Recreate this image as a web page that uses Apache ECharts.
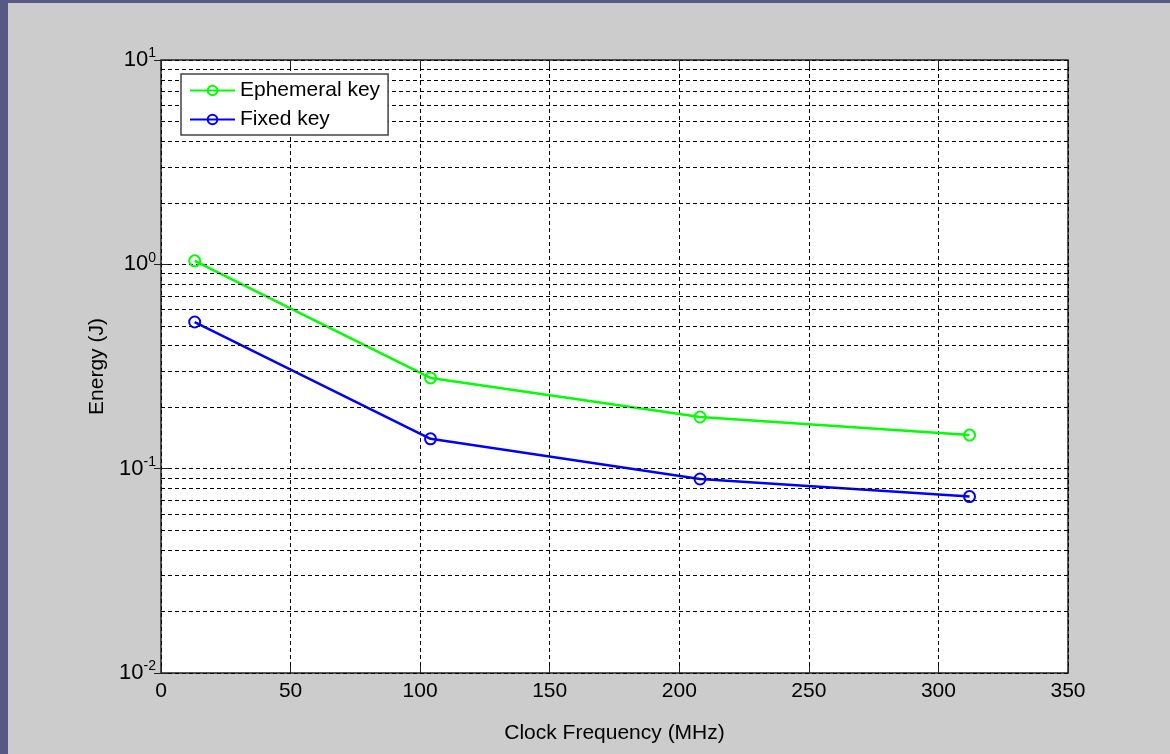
<!DOCTYPE html>
<html>
<head>
<meta charset="utf-8">
<script src="https://cdn.jsdelivr.net/npm/echarts@6/dist/echarts.min.js"></script>
<style>
  html, body { margin: 0; padding: 0; background: #575984; }
  #chart { position: absolute; left: 8px; top: 3px; width: 1162px; height: 751px; background: #cccccc; }
</style>
</head>
<body>
<div id="chart"></div>
<script>
// frecuencias de reloj (MHz)
const clockFreq = [13, 104, 208, 312];
// energía medida (J)
const ephemeralEnergy = [1.04, 0.278, 0.179, 0.146];
const fixedEnergy = [0.522, 0.14, 0.089, 0.073];
// líneas menores de la rejilla logarítmica
const minorGrid = [0.02, 0.03, 0.04, 0.05, 0.06, 0.07, 0.08, 0.09,
                   0.2, 0.3, 0.4, 0.5, 0.6, 0.7, 0.8, 0.9,
                   2, 3, 4, 5, 6, 7, 8, 9];
const xTicks = [0, 50, 100, 150, 200, 250, 300, 350];

const chart = echarts.init(document.getElementById('chart'));

const dashed = { color: '#000', width: 1, type: [4, 3] };
const font = 'Liberation Sans, Arial, sans-serif';

function pairs(ys) {
  return clockFreq.map((x, i) => [x, ys[i]]);
}

function lineSeries(name, color, ys) {
  return {
    name: name,
    type: 'line',
    z: 3,
    data: pairs(ys),
    symbol: 'circle',
    symbolSize: 11,
    lineStyle: { color: color, width: 2.5 },
    itemStyle: { color: 'rgba(255,255,255,0)', borderColor: color, borderWidth: 2 },
    emphasis: { disabled: true },
    animation: false
  };
}

const option = {
  animation: false,
  textStyle: { fontFamily: font },
  grid: {
    left: 153, top: 57, width: 907, height: 613,
    show: true, backgroundColor: '#fff', borderColor: '#222', borderWidth: 1.5
  },
  legend: {
    z: 20,
    left: 173, top: 71,
    orient: 'vertical',
    backgroundColor: '#fff',
    borderColor: '#444', borderWidth: 1.5,
    padding: [6, 8, 5, 8],
    itemGap: 8,
    itemWidth: 45, itemHeight: 12,
    textStyle: { fontSize: 21, color: '#000', fontFamily: font },
    data: ['Ephemeral key', 'Fixed key']
  },
  xAxis: [{
    type: 'value',
    min: 0, max: 350, interval: 50,
    name: 'Clock Frequency (MHz)',
    nameLocation: 'middle',
    nameGap: 50,
    nameTextStyle: { fontSize: 21, color: '#000' },
    axisLine: { show: false },
    axisTick: { show: true, inside: true, length: 7, lineStyle: { color: '#222' } },
    axisLabel: { fontSize: 21, color: '#000', margin: 8,
      formatter: v => xTicks.includes(v) ? String(v) : '' },
    splitLine: { show: true, lineStyle: dashed }
  }, {
    type: 'value', position: 'top',
    min: 0, max: 350, interval: 50,
    axisLine: { show: false },
    axisTick: { show: true, inside: true, length: 7, lineStyle: { color: '#222' } },
    axisLabel: { show: false },
    splitLine: { show: false }
  }],
  yAxis: [{
    type: 'log', logBase: 10,
    min: 0.01, max: 10,
    name: 'Energy (J)',
    nameLocation: 'middle',
    nameGap: 46,
    nameTextStyle: { fontSize: 21, color: '#000' },
    axisLine: { show: false },
    axisTick: { show: true, inside: true, length: 7, lineStyle: { color: '#222' } },
    axisLabel: {
      margin: 5,
      formatter: v => '{b|10}{s|' + Math.round(Math.log10(v)) + '}',
      rich: {
        b: { fontSize: 22, color: '#000', fontFamily: font },
        s: { fontSize: 14, color: '#000', fontFamily: font, padding: [0, 0, 13, 0], verticalAlign: 'bottom' }
      }
    },
    splitLine: { show: true, lineStyle: dashed }
  }, {
    type: 'log', logBase: 10, position: 'right',
    min: 0.01, max: 10,
    axisLine: { show: false },
    axisTick: { show: true, inside: true, length: 7, lineStyle: { color: '#222' } },
    axisLabel: { show: false },
    splitLine: { show: false }
  }],
  series: [
    {
      name: 'grid',
      type: 'line',
      z: 1,
      data: [],
      markLine: {
        silent: true,
        symbol: 'none',
        animation: false,
        label: { show: false },
        lineStyle: dashed,
        data: minorGrid.map(v => ({ yAxis: v }))
      }
    },
    lineSeries('Ephemeral key', '#00ff00', ephemeralEnergy),
    lineSeries('Fixed key', '#0000ff', fixedEnergy)
  ]
};

chart.setOption(option);
</script>
</body>
</html>
